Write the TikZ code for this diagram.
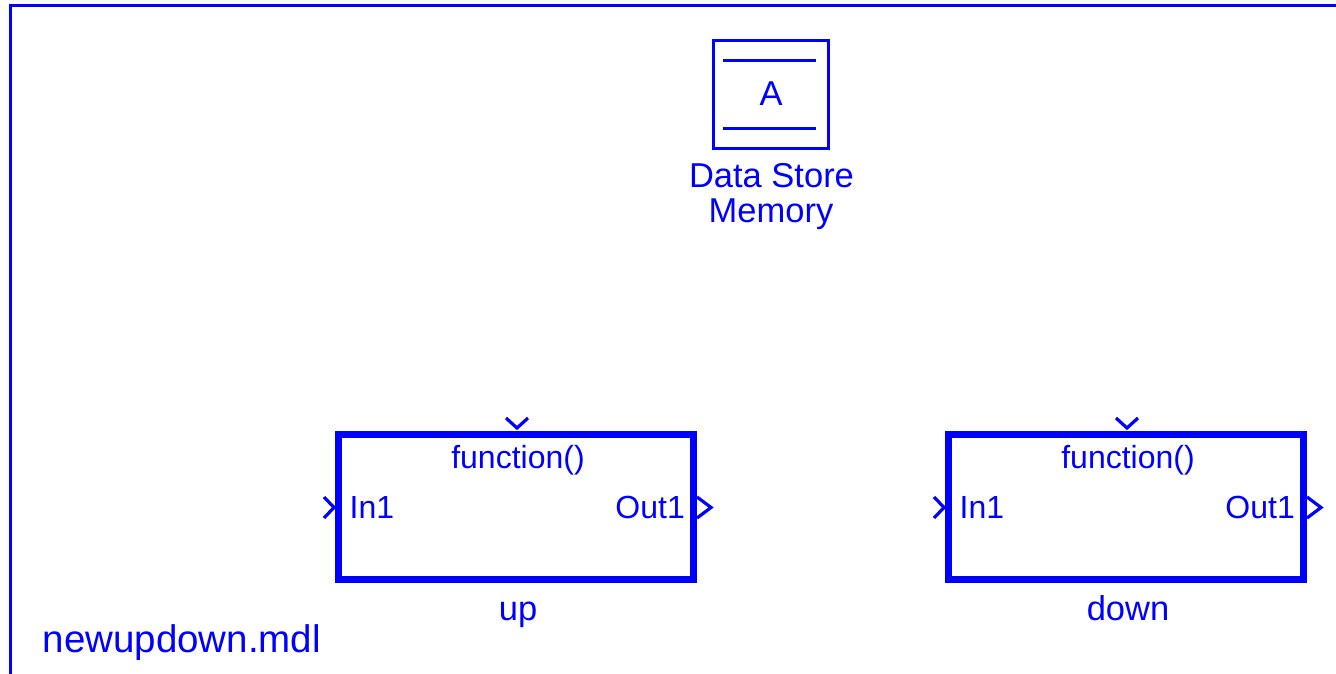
\documentclass[tikz,border=0pt]{standalone}
\usepackage{fontspec}
\setmainfont{Liberation Sans}
\definecolor{sl}{RGB}{0,0,255}
\tikzset{
  lbl/.style={text=sl, inner sep=0pt, font=\fontsize{32}{35}\selectfont},
  dslbl/.style={text=sl, inner sep=0pt, font=\fontsize{34.5}{36}\selectfont},
  port/.style={draw=sl, line width=3.2pt, line cap=butt, line join=miter},
  subsys/.style={draw=sl, line width=7pt, line join=miter},
}
\begin{document}
\begin{tikzpicture}[x=1pt, y=-1pt]
\useasboundingbox (0,0) rectangle (1336,674);
% model frame (top and left edges)
\draw[sl, line width=3pt] (10.5,674) -- (10.5,6) -- (1336,6);

% Data Store Memory block
\node[draw=sl, line width=3pt, minimum width=115pt, minimum height=108pt, inner sep=0pt] (dsm) at (770.5,95) {};
\draw[sl, line width=3pt] ([xshift=11pt,yshift=-21pt]dsm.north west) -- ([xshift=-14pt,yshift=-21pt]dsm.north east);
\draw[sl, line width=3pt] ([xshift=11pt,yshift=22pt]dsm.south west) -- ([xshift=-14pt,yshift=22pt]dsm.south east);
\node[dslbl, anchor=base] (dsmA) at (771,106) {A};
\node[dslbl, anchor=base] (dsmL1) at (771.5,187) {Data Store};
\node[dslbl, anchor=base] (dsmL2) at (771,222) {Memory};

% Function-call subsystems
\foreach \nm/\dx/\cap in {up/0/up, down/610/down}{
  \begin{scope}[xshift=\dx pt]
    \node[subsys, minimum width=355pt, minimum height=145pt, inner sep=0pt] (\nm) at (516,507) {};
    % trigger port
    \draw[port] (506,418) -- (517,428) -- (528,418);
    % input port
    \draw[port] (324,497) -- (334,507.5) -- (324,518);
    % output port
    \draw[port] (697,497) -- (711,507.5) -- (697,518);
    \node[lbl, anchor=base] (\nm fn) at (518,468) {function()};
    \node[lbl, anchor=base west] (\nm in) at (349.5,518) {In1};
    \node[lbl, anchor=base east] (\nm out) at (685,518) {Out1};
    \node[dslbl, anchor=base] (\nm cap) at (518,620) {\cap};
  \end{scope}
}

% model file name
\node[text=sl, inner sep=0pt, anchor=base west, font=\fontsize{38.5}{41}\selectfont] (fname) at (42.5,652) {newupdown.mdl};
\end{tikzpicture}
\end{document}
